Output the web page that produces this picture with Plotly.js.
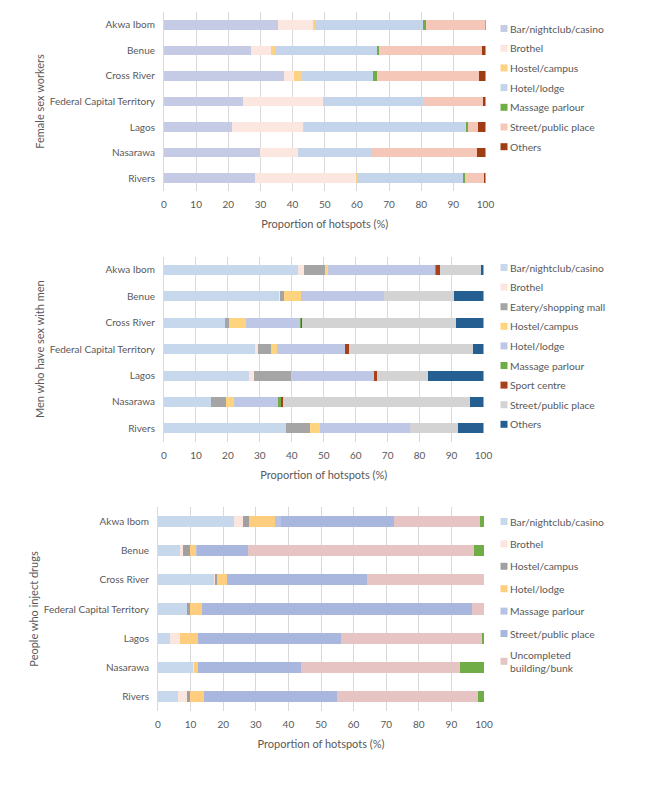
<!DOCTYPE html>
<html>
<head>
<meta charset="utf-8">
<script src="https://cdn.plot.ly/plotly-3.0.1.min.js"></script>
<style>html,body{margin:0;padding:0;background:#fff;}#chart{width:666px;height:799px;}</style>
</head>
<body>
<div id="chart"></div>
<script>
// ---------- categories ----------
const states = ['Akwa Ibom','Benue','Cross River','Federal Capital Territory','Lagos','Nasarawa','Rivers'];
const xTicks = [0,10,20,30,40,50,60,70,80,90,100];

// ---------- Female sex workers (% of hotspots) ----------
const fswNames = ['Bar/nightclub/casino','Brothel','Hostel/campus','Hotel/lodge','Massage parlour','Street/public place','Others'];
const fswBar      = [35.6, 27.2, 37.2, 24.7, 21.1, 29.9, 28.2];
const fswBrothel  = [10.6,  6.0,  3.1, 24.8, 22.0, 11.9, 31.6];
const fswHostel   = [ 0.8,  1.4,  2.5,  0.0,  0.5,  0.0,  0.3];
const fswHotel    = [33.7, 31.7, 22.1, 31.0, 50.4, 22.5, 32.9];
const fswMassage  = [ 0.8,  0.5,  1.2,  0.2,  0.4,  0.0,  0.7];
const fswStreet   = [18.3, 32.0, 31.8, 18.4,  3.4, 33.2,  5.8];
const fswOthers   = [ 0.2,  1.2,  2.1,  0.9,  2.2,  2.5,  0.5];

// ---------- Men who have sex with men ----------
const msmNames = ['Bar/nightclub/casino','Brothel','Eatery/shopping mall','Hostel/campus','Hotel/lodge','Massage parlour','Sport centre','Street/public place','Others'];
const msmBar      = [41.9, 36.0, 19.2, 28.6, 26.7, 14.6, 38.1];
const msmBrothel  = [ 1.9,  0.3,  0.0,  0.8,  1.5,  0.0,  0.0];
const msmEatery   = [ 6.5,  1.3,  1.0,  4.1, 11.4,  4.9,  7.7];
const msmHostel   = [ 1.1,  5.4,  5.4,  1.8,  0.0,  2.4,  2.9];
const msmHotel    = [33.4, 25.8, 16.9, 21.5, 26.1, 13.8, 28.4];
const msmMassage  = [ 0.4,  0.0,  0.4,  0.0,  0.0,  0.8,  0.0];
const msmSport    = [ 1.1,  0.0,  0.4,  1.1,  0.9,  0.7,  0.0];
const msmStreet   = [13.0, 21.9, 48.1, 38.7, 16.0, 58.7, 14.9];
const msmOthers   = [ 0.7,  9.3,  8.6,  3.4, 17.4,  4.1,  8.0];

// ---------- People who inject drugs ----------
const pwidNames = ['Bar/nightclub/casino','Brothel','Hostel/campus','Hotel/lodge','Massage parlour','Street/public place','Uncompleted<br>building/bunk','Others'];
const pwidBar         = [23.2,  6.8, 17.2,  8.9,  3.8, 10.8,  6.0];
const pwidBrothel     = [ 3.0,  0.9,  0.2,  0.0,  2.9,  0.3,  2.8];
const pwidHostel      = [ 1.6,  2.0,  0.6,  1.0,  0.0,  0.0,  0.9];
const pwidHotel       = [ 8.0,  2.1,  3.1,  3.6,  5.5,  1.1,  4.5];
const pwidMassage     = [ 2.0,  0.3,  0.0,  0.0,  0.0,  0.0,  0.0];
const pwidStreet      = [34.5, 15.6, 43.0, 82.8, 43.8, 31.7, 40.7];
const pwidUncompleted = [26.5, 69.2, 35.9,  3.7, 43.3, 48.7, 43.4];
const pwidOthers      = [ 1.2,  3.1,  0.0,  0.0,  0.7,  7.4,  1.7];

// ---------- styling ----------
const fswColors  = ['#c5cbe4','#fbe7e0','#fdd383','#c4d5eb','#70ad47','#f4c7b8','#9e3c14'];
const msmColors  = ['#c7d8ed','#fbe5df','#a5a5a5','#fed47f','#bec8e6','#70ad47','#a8411a','#d3d3d3','#255e91'];
const pwidColors = ['#c7d8ed','#fbe5df','#a0a0a0','#fecd7d','#b6c3e5','#a9b6dd','#e6c4c4','#70ad47'];

const FONT = 'Lato, "Open Sans", sans-serif';
const GREY = '#595959';
const W = 666, H = 799;
const BARW = 0.38;

function makeTraces(names, series, colors, xa, ya, legend, prefix, hideLast) {
  return series.map((vals, i) => ({
    type: 'bar', orientation: 'h',
    name: names[i], x: vals, y: states,
    xaxis: xa, yaxis: ya, legend: legend,
    legendgroup: prefix + i,
    showlegend: !(hideLast && i === series.length - 1),
    width: BARW,
    marker: {color: colors[i], line: {width: 0}},
    hovertemplate: '%{y}: %{x}%<extra>' + names[i] + '</extra>'
  }));
}

const traces = [].concat(
  makeTraces(fswNames, [fswBar,fswBrothel,fswHostel,fswHotel,fswMassage,fswStreet,fswOthers], fswColors, 'x', 'y', 'legend', 'f', false),
  makeTraces(msmNames, [msmBar,msmBrothel,msmEatery,msmHostel,msmHotel,msmMassage,msmSport,msmStreet,msmOthers], msmColors, 'x2', 'y2', 'legend2', 'm', false),
  makeTraces(pwidNames, [pwidBar,pwidBrothel,pwidHostel,pwidHotel,pwidMassage,pwidStreet,pwidUncompleted,pwidOthers], pwidColors, 'x3', 'y3', 'legend3', 'p', true)
);

function xAxis(domain, anchor) {
  return {
    domain: domain, anchor: anchor, range: [0, 100],
    tickvals: xTicks, ticktext: xTicks.map(String),
    showgrid: true, gridcolor: '#d9d9d9', gridwidth: 1,
    zeroline: false, showline: false, ticks: '',
    ticklabelstandoff: 6,
    tickfont: {family: FONT, size: 10, color: GREY},
    title: {text: 'Proportion of hotspots (%)', font: {family: FONT, size: 11, color: GREY}, standoff: 11},
    automargin: true, fixedrange: true
  };
}
function yAxis(domain, anchor, title) {
  return {
    domain: domain, anchor: anchor, type: 'category',
    categoryorder: 'array', categoryarray: states,
    autorange: 'reversed',
    showgrid: false, zeroline: false, ticks: '',
    showline: true, linecolor: '#d9d9d9', linewidth: 1,
    ticklabelstandoff: 6,
    tickfont: {family: FONT, size: 10, color: GREY},
    title: {text: title, font: {family: FONT, size: 11, color: GREY}, standoff: 2},
    automargin: true, fixedrange: true
  };
}
function legendOpts(y, gap) {
  return {
    x: 470/W, xanchor: 'left', y: y, yanchor: 'top',
    traceorder: 'grouped', tracegroupgap: gap,
    font: {family: FONT, size: 10.3, color: GREY},
    bgcolor: 'rgba(0,0,0,0)', borderwidth: 0
  };
}

const layout = {
  width: W, height: H,
  margin: {l: 0, r: 0, t: 0, b: 0, autoexpand: false},
  paper_bgcolor: '#fff', plot_bgcolor: '#fff',
  barmode: 'stack',
  font: {family: FONT, color: GREY},
  xaxis:  xAxis([164/W, 485.5/W], 'y'),
  yaxis:  yAxis([1 - 190.8/H, 1 - 12.2/H], 'x', 'Female sex workers'),
  xaxis2: xAxis([164/W, 483.5/W], 'y2'),
  yaxis2: yAxis([1 - 441.5/H, 1 - 256.8/H], 'x2', 'Men who have sex with men'),
  xaxis3: xAxis([158/W, 484/W], 'y3'),
  yaxis3: yAxis([1 - 711/H, 1 - 507/H], 'x3', 'People who inject drugs'),
  legend:  legendOpts(1 - 14/H, 0.7),
  legend2: legendOpts(1 - 253/H, 0.6),
  legend3: legendOpts(1 - 507/H, 3.4),
  showlegend: true
};

Plotly.newPlot('chart', traces, layout, {displayModeBar: false, staticPlot: true}).then(gd => {
  // smaller legend swatches, closer to the label text
  document.querySelectorAll('.legendpoints path').forEach(p => {
    p.setAttribute('d', 'M17.5,3.5H10.5V-3.5H17.5Z');
  });
});
</script>
</body>
</html>
